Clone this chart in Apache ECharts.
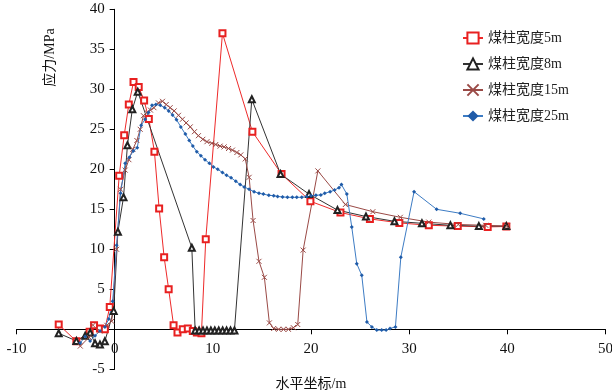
<!DOCTYPE html>
<html>
<head>
<meta charset="utf-8">
<script src="https://cdn.jsdelivr.net/npm/echarts@6/dist/echarts.min.js"></script>
<style>html,body{margin:0;padding:0;background:#fff}#c{width:612px;height:392px}</style>
</head>
<body>
<div id="c"></div>
<script>
const seriesNames = ['煤柱宽度5m', '煤柱宽度8m', '煤柱宽度15m', '煤柱宽度25m'];
const xTicks = [-10, 0, 10, 20, 30, 40, 50];
const yTicks = [-5, 0, 5, 10, 15, 20, 25, 30, 35, 40];

const x5 = [-5.7,-3.9,-2.55,-2.1,-1.5,-1.0,-0.5,0.46,0.97,1.44,1.92,2.45,3.0,3.48,4.05,4.53,5.04,5.5,6.0,6.4,6.94,7.45,7.96,8.37,8.84,9.28,10.98,14.03,17.0,19.94,23.0,26.0,29.0,32.0,34.95,38.0,39.9];
const y5 = [0.6,-1.5,-0.3,0.5,0.1,0.0,2.8,19.2,24.25,28.1,30.9,30.3,28.6,26.3,22.2,15.1,9.0,5.0,0.5,-0.4,0.0,0.1,-0.2,-0.4,-0.5,11.25,37.0,24.7,19.4,16.0,14.6,13.8,13.3,13.0,12.9,12.8,12.85];

const x8 = [-5.7,-3.9,-3.0,-2.5,-2.0,-1.5,-1.0,-0.1,0.33,0.9,1.3,1.8,2.35,7.86,8.2,8.6,9.0,9.4,9.8,10.2,10.6,11.0,11.4,11.8,12.2,13.97,16.9,19.8,22.7,25.6,28.5,31.3,34.2,37.1,39.9];
const y8 = [-0.5,-1.45,-0.8,-0.4,-1.75,-1.9,-1.5,2.3,12.2,16.5,23.0,27.5,29.7,10.2,-0.15,-0.15,-0.15,-0.15,-0.15,-0.15,-0.15,-0.15,-0.15,-0.15,-0.15,28.75,19.4,16.9,14.9,14.1,13.5,13.25,13.0,12.9,12.9];

const x15 = [-3.5,-2.6,-2.2,-1.5,-0.8,-0.3,0.2,0.6,1.07,1.45,1.85,2.26,2.6,2.93,3.28,3.65,4.0,4.46,4.87,5.25,5.65,6.06,6.5,6.9,7.28,7.7,8.13,8.53,8.98,9.4,9.9,10.3,10.74,11.15,11.6,12.0,12.45,12.85,13.3,13.7,14.1,14.7,15.25,15.76,16.2,16.7,17.2,17.7,18.2,18.65,19.2,20.7,23.5,26.3,29.1,32.0,35.0,37.8,40.0];
const y15 = [-2.1,-1.0,0.5,-0.2,0.5,1.0,10.0,17.5,19.9,21.2,22.5,23.6,25.0,26.7,27.1,27.4,27.7,28.3,28.5,28.1,27.7,27.3,26.75,26.25,25.8,25.3,24.7,24.2,23.75,23.45,23.25,23.1,22.9,22.8,22.6,22.4,22.1,21.8,21.3,19.0,13.6,8.5,6.5,0.8,0.1,0.0,0.0,0.0,0.2,0.6,9.9,19.8,15.6,14.7,14.0,13.4,13.1,13.0,12.9];

const x25 = [-3.5,-3.0,-2.5,-2.0,-1.5,-1.0,-0.6,-0.2,0.2,0.6,1.07,1.5,1.9,2.3,2.7,3.1,3.45,3.8,4.2,4.65,5.1,5.5,5.9,6.3,6.74,7.2,7.6,7.96,8.37,8.78,9.2,9.65,10.06,10.5,10.98,11.4,11.86,12.34,12.78,13.2,13.7,14.2,14.7,15.15,15.7,16.2,16.6,17.1,17.6,18.1,18.55,19.06,19.57,20.0,20.5,21.0,21.4,21.95,22.4,22.85,23.1,23.65,24.15,24.66,25.17,25.7,26.2,26.7,27.2,27.65,28.05,28.6,29.15,30.5,32.8,35.2,37.6];
const y25 = [-1.7,-0.9,-1.45,-0.8,-0.2,0.3,1.3,3.5,10.5,17.0,20.75,21.5,22.3,22.7,25.5,26.25,27.1,28.0,28.1,28.0,27.7,27.3,26.8,26.2,25.3,24.4,23.6,22.9,22.2,21.7,21.2,20.75,20.3,20.0,19.6,19.25,18.95,18.5,18.1,17.8,17.5,17.2,17.0,16.9,16.75,16.7,16.6,16.55,16.5,16.5,16.5,16.5,16.6,16.7,16.75,16.8,17.0,17.2,17.4,17.7,18.1,16.9,12.8,8.2,6.75,0.9,0.3,-0.1,-0.1,-0.1,0.1,0.3,9.0,17.2,15.0,14.5,13.8];

function pairs(xs, ys) { return xs.map((x, i) => [x, ys[i]]); }

const FONT = '"Liberation Serif", "Noto Sans CJK SC", serif';
const chart = echarts.init(document.getElementById('c'), null, {renderer: 'canvas'});
const xPath = 'path://M0,0L10,10M10,0L0,10';
const XMIN = xTicks[0], XMAX = xTicks[xTicks.length - 1];
const YMIN = yTicks[0], YMAX = yTicks[yTicks.length - 1];

// plot area: x -10..50 -> px 16.5..605.5 ; y -5..40 -> px 369.3..9.3
const L = 16.5, R = 6.5, T = 9.3, B = 22.7;
const zeroX = L + (0 - XMIN) / (XMAX - XMIN) * (612 - L - R);
const zeroY = T + (YMAX - 0) / (YMAX - YMIN) * (392 - T - B);

const lineSt = {show: true, onZero: false, lineStyle: {color: '#000', width: 1}};
const tickSt = {show: true, inside: false, length: 5, lineStyle: {color: '#000'}};
const hidden = {show: false};

chart.setOption({
  animation: false,
  backgroundColor: '#ffffff',
  textStyle: {fontFamily: FONT},
  grid: [
    {left: L, right: R, top: T, bottom: B, outerBoundsMode: 'none', containLabel: false},
    {left: L, right: R, top: T, bottom: 392 - zeroY, outerBoundsMode: 'none', containLabel: false},
    {left: zeroX, width: 100, top: T, bottom: B, outerBoundsMode: 'none', containLabel: false},
    {left: zeroX, width: 10, top: 30, height: 55, outerBoundsMode: 'none', containLabel: false}
  ],
  legend: {
    orient: 'vertical',
    left: 457,
    top: 26,
    itemGap: 12,
    itemWidth: 20,
    itemHeight: 14,
    textStyle: {fontFamily: FONT, fontSize: 14, color: '#222'},
    data: seriesNames
  },
  xAxis: [
    {gridIndex: 0, type: 'value', min: XMIN, max: XMAX, show: false},
    {gridIndex: 1, type: 'value', min: XMIN, max: XMAX, interval: 10, position: 'bottom',
      axisLine: lineSt, axisTick: tickSt, splitLine: hidden,
      axisLabel: {fontFamily: FONT, fontSize: 15, color: '#111', margin: 12},
      name: '水平坐标/m', nameLocation: 'middle', nameGap: 48,
      nameTextStyle: {fontFamily: FONT, fontSize: 14, color: '#111'}},
    {gridIndex: 2, type: 'value', min: 0, max: 1, show: false},
    {gridIndex: 3, type: 'value', min: 0, max: 1, show: false}
  ],
  yAxis: [
    {gridIndex: 0, type: 'value', min: YMIN, max: YMAX, show: false},
    {gridIndex: 1, type: 'value', min: 0, max: 1, show: false},
    {gridIndex: 2, type: 'value', min: YMIN, max: YMAX, interval: 5, position: 'left',
      axisLine: lineSt, axisTick: tickSt, splitLine: hidden,
      axisLabel: {fontFamily: FONT, fontSize: 15, color: '#111', margin: 10,
        formatter: v => (v === 0 ? '' : String(v))}},
    {gridIndex: 3, type: 'value', min: 0, max: 1, position: 'left',
      axisLine: hidden, axisTick: hidden, axisLabel: hidden, splitLine: hidden,
      name: '应力/MPa', nameLocation: 'middle', nameGap: 57,
      nameTextStyle: {fontFamily: FONT, fontSize: 14, color: '#111'}}
  ],
  series: [
    {
      name: seriesNames[0], type: 'line', xAxisIndex: 0, yAxisIndex: 0, data: pairs(x5, y5),
      symbol: 'emptyRect', symbolSize: 6,
      lineStyle: {color: '#EE2A2A', width: 1},
      itemStyle: {color: '#E82020', borderWidth: 1}
    },
    {
      name: seriesNames[1], type: 'line', xAxisIndex: 0, yAxisIndex: 0, data: pairs(x8, y8),
      symbol: 'emptyTriangle', symbolSize: 6,
      lineStyle: {color: '#333333', width: 1},
      itemStyle: {color: '#222222', borderWidth: 1}
    },
    {
      name: seriesNames[2], type: 'line', xAxisIndex: 0, yAxisIndex: 0, data: pairs(x15, y15),
      symbol: xPath, symbolSize: 5,
      lineStyle: {color: '#9A4A46', width: 1},
      itemStyle: {color: '#9A4A46', borderColor: '#9A4A46', borderWidth: 1}
    },
    {
      name: seriesNames[3], type: 'line', xAxisIndex: 0, yAxisIndex: 0, data: pairs(x25, y25),
      symbol: 'diamond', symbolSize: 4,
      lineStyle: {color: '#3D7CC4', width: 1},
      itemStyle: {color: '#1F5BA8'}
    }
  ]
});
</script>
</body>
</html>
